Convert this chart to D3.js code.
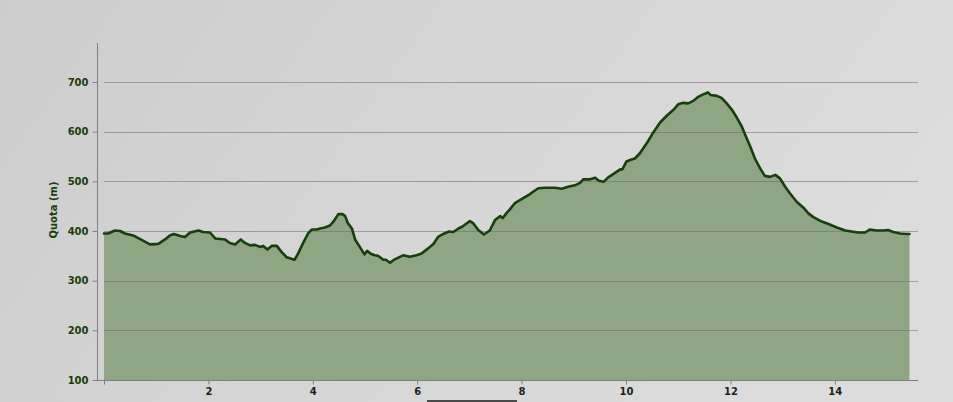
<!DOCTYPE html>
<html>
<head>
<meta charset="utf-8">
<script src="https://cdn.jsdelivr.net/npm/d3@7/dist/d3.min.js"></script>
<style>
  html, body { margin: 0; padding: 0; background: #d2d2d2; }
  svg { display: block; }
</style>
</head>
<body>
<svg id="chart" width="953" height="402"></svg>
<script>
// Distance along route (km)
const distances = [0, 0.08, 0.21, 0.31, 0.40, 0.56, 0.72, 0.88, 1.04, 1.17, 1.26, 1.34, 1.46, 1.55, 1.65, 1.81, 1.90, 2.03, 2.13, 2.32, 2.41, 2.51, 2.62, 2.70, 2.80, 2.89, 2.99, 3.05, 3.13, 3.21, 3.31, 3.40, 3.50, 3.65, 3.72, 3.82, 3.91, 3.98, 4.07, 4.14, 4.23, 4.33, 4.41, 4.49, 4.57, 4.62, 4.67, 4.75, 4.81, 4.90, 4.99, 5.04, 5.11, 5.19, 5.25, 5.35, 5.40, 5.48, 5.57, 5.73, 5.86, 5.99, 6.09, 6.21, 6.31, 6.40, 6.50, 6.61, 6.69, 6.79, 6.88, 7.01, 7.07, 7.17, 7.28, 7.39, 7.49, 7.59, 7.64, 7.71, 7.78, 7.87, 8.00, 8.13, 8.22, 8.32, 8.45, 8.64, 8.77, 8.89, 9.02, 9.12, 9.18, 9.31, 9.41, 9.48, 9.57, 9.66, 9.79, 9.89, 9.93, 10.01, 10.08, 10.17, 10.27, 10.40, 10.52, 10.65, 10.78, 10.91, 11.00, 11.10, 11.19, 11.29, 11.38, 11.48, 11.57, 11.62, 11.74, 11.83, 11.93, 12.03, 12.12, 12.22, 12.30, 12.38, 12.47, 12.57, 12.66, 12.76, 12.86, 12.95, 13.05, 13.14, 13.27, 13.40, 13.49, 13.59, 13.75, 13.88, 14.04, 14.20, 14.32, 14.45, 14.58, 14.67, 14.80, 14.93, 15.02, 15.12, 15.25, 15.38, 15.43];
// Elevation (m)
const elevations = [395, 395, 401, 400, 395, 391, 382, 373, 374, 383, 391, 394, 390, 388, 397, 401, 398, 397, 385, 383, 376, 373, 383, 376, 371, 372, 368, 370, 363, 370, 370, 358, 347, 342, 355, 377, 395, 403, 403, 405, 407, 411, 421, 434, 434, 430, 416, 405, 383, 368, 353, 360, 354, 351, 350, 342, 342, 336, 343, 351, 348, 351, 355, 365, 374, 388, 394, 399, 398, 405, 410, 420, 416, 402, 393, 401, 422, 430, 426, 436, 444, 456, 464, 472, 479, 486, 487, 487, 485, 489, 492, 497, 504, 504, 507, 501, 499, 508, 517, 524, 524, 540, 543, 546, 557, 577, 598, 618, 632, 644, 655, 658, 657, 662, 670, 675, 679, 674, 672, 668, 657, 644, 629, 610, 590, 570, 546, 526, 511, 509, 513, 506, 489, 476, 459, 447, 436, 428, 419, 414, 407, 401, 399, 397, 397, 403, 401, 401, 402, 398, 395, 394, 394];
const yTicks = [100, 200, 300, 400, 500, 600, 700];
const xTicks = [0, 2, 4, 6, 8, 10, 12, 14];
const xTickLabels = ["", "2", "4", "6", "8", "10", "12", "14"];
const yTitle = "Quota (m)";

const data = distances.map((d, i) => ({ d, v: elevations[i] }));

const svg = d3.select("#chart");
const W = 953, H = 402;

// background gradient
const defs = svg.append("defs");
const bg = defs.append("linearGradient").attr("id", "bg").attr("x1", "0").attr("x2", "1").attr("y1", "0").attr("y2", "0.3");
bg.append("stop").attr("offset", "0").attr("stop-color", "#cdcdcd");
bg.append("stop").attr("offset", "0.7").attr("stop-color", "#d8d8d8");
bg.append("stop").attr("offset", "1").attr("stop-color", "#dcdcdc");
svg.append("rect").attr("width", W).attr("height", H).attr("fill", "url(#bg)");

const x = d3.scaleLinear().domain([0, 15.6]).range([104, 918.3]);
const y = d3.scaleLinear().domain([100, 700]).range([380, 82]);

// area
const area = d3.area().x(p => x(p.d)).y0(y(100)).y1(p => y(p.v));
svg.append("path").datum(data).attr("d", area).attr("fill", "#8fa583");

// gridlines
svg.append("g").selectAll("line").data(yTicks.filter(t => t > 100)).join("line")
  .attr("x1", 104).attr("x2", 918)
  .attr("y1", t => Math.round(y(t)) + 0.5).attr("y2", t => Math.round(y(t)) + 0.5)
  .attr("stroke", "#6e6e6e").attr("stroke-opacity", 0.55).attr("stroke-width", 1);

// line
const line = d3.line().x(p => x(p.d)).y(p => y(p.v));
svg.append("path").datum(data).attr("d", line)
  .attr("fill", "none").attr("stroke", "#173f0c").attr("stroke-width", 2.6)
  .attr("stroke-linejoin", "round").attr("stroke-linecap", "round");

// y axis
const yAxis = svg.append("g").attr("transform", "translate(97.5,0)")
  .call(d3.axisLeft(y).tickValues(yTicks).tickSize(5).tickPadding(4).tickFormat(d3.format("d")));
yAxis.select(".domain").remove();
yAxis.append("line").attr("x1", 0).attr("x2", 0).attr("y1", 43).attr("y2", 381).attr("stroke", "#7a8088");
yAxis.selectAll(".tick line").attr("stroke", "#7a8088");
yAxis.selectAll(".tick text").attr("fill", "#1b3d0c")
  .style("font-family", "'DejaVu Sans', Verdana, sans-serif").style("font-size", "10px").style("font-weight", "bold");

// x axis
const xAxis = svg.append("g").attr("transform", "translate(0,380.5)")
  .call(d3.axisBottom(x).tickValues(xTicks).tickSize(4).tickPadding(3).tickFormat((d, i) => xTickLabels[i]));
xAxis.select(".domain").remove();
xAxis.append("line").attr("x1", 97).attr("x2", 918).attr("y1", 0).attr("y2", 0).attr("stroke", "#7a8088");
xAxis.selectAll(".tick line").attr("stroke", "#7a8088");
xAxis.selectAll(".tick text").attr("fill", "#1e1e1e")
  .style("font-family", "'DejaVu Sans', Verdana, sans-serif").style("font-size", "10px").style("font-weight", "bold");

// y title
svg.append("text").attr("transform", "translate(57,210) rotate(-90)")
  .attr("text-anchor", "middle").attr("fill", "#1b3d0c")
  .style("font-family", "'DejaVu Sans', Verdana, sans-serif").style("font-size", "10px").style("font-weight", "bold")
  .text(yTitle);

// bottom scrollbar-like bar
svg.append("rect").attr("x", 427).attr("y", 400).attr("width", 90).attr("height", 3).attr("fill", "#4a4a4a");
</script>
</body>
</html>
